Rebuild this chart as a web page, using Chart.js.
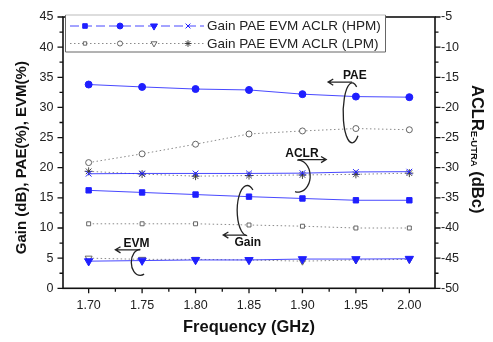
<!DOCTYPE html>
<html>
<head>
<meta charset="utf-8">
<script src="https://cdn.jsdelivr.net/npm/chart.js@4.4.1/dist/chart.umd.min.js"></script>
<style>
  html, body { margin: 0; padding: 0; background: #fff; }
  #wrap { width: 493px; height: 342px; }
</style>
</head>
<body>
<div id="wrap"><canvas id="c"></canvas></div>
<script>
// Frequency sweep (GHz)
const freq = [1.70, 1.75, 1.80, 1.85, 1.90, 1.95, 2.00];

// High power mode
const gainHPM = [16.25, 15.9, 15.55, 15.2, 14.9, 14.6, 14.6];
const paeHPM  = [33.8, 33.4, 33.05, 32.9, 32.2, 31.8, 31.7];
const evmHPM  = [4.5, 4.6, 4.7, 4.7, 4.85, 4.85, 4.9];
const aclrHPM = [-31.0, -30.95, -30.95, -30.95, -30.9, -30.7, -30.65];

// Low power mode
const gainLPM = [10.7, 10.7, 10.7, 10.5, 10.3, 10.0, 10.0];
const paeLPM  = [20.85, 22.3, 23.9, 25.6, 26.1, 26.5, 26.3];
const evmLPM  = [5.0, 4.8, 4.8, 4.7, 4.5, 4.7, 4.8];
const aclrLPM = [-30.6, -31.05, -31.4, -31.3, -31.2, -31.1, -30.9];

// Axis ticks
const xTicks = [1.70, 1.75, 1.80, 1.85, 1.90, 1.95, 2.00];
const leftTicks = [0, 5, 10, 15, 20, 25, 30, 35, 40, 45];
const rightTicks = [-50, -45, -40, -35, -30, -25, -20, -15, -10, -5];

const FONT = '"Liberation Sans", Arial, Helvetica, sans-serif';
const BLUE = '#1f1fff';
const BLUE_LINE = 'rgba(40,40,255,0.85)';
const GRAY_LINE = '#8a8a8a';
const GRAY_MK = '#555';

const pts = arr => arr.map((v, i) => ({ x: freq[i], y: v }));

function hpm(label, data, style, r, axis, rot) {
  return {
    label, data: pts(data), yAxisID: axis,
    borderColor: BLUE_LINE, borderWidth: 1, tension: 0,
    pointStyle: style, pointRadius: r, pointRotation: rot || 0,
    pointBackgroundColor: BLUE, pointBorderColor: BLUE, pointBorderWidth: 1,
    order: 1
  };
}
function lpm(label, data, style, r, axis, rot) {
  return {
    label, data: pts(data), yAxisID: axis,
    borderColor: GRAY_LINE, borderWidth: 1, borderDash: [1.5, 2.5], tension: 0,
    pointStyle: style, pointRadius: r, pointRotation: rot || 0,
    pointBackgroundColor: '#fff', pointBorderColor: GRAY_MK, pointBorderWidth: 0.9,
    order: 2
  };
}

const datasets = [
  lpm('Gain (LPM)', gainLPM, 'rect', 2.8, 'y'),
  lpm('PAE (LPM)', paeLPM, 'circle', 3, 'y'),
  lpm('EVM (LPM)', evmLPM, 'triangle', 4, 'y', 180),
  lpm('ACLR (LPM)', aclrLPM, 'star', 4, 'y2'),
  hpm('Gain (HPM)', gainHPM, 'rect', 3.8, 'y'),
  hpm('PAE (HPM)', paeHPM, 'circle', 3.5, 'y'),
  hpm('EVM (HPM)', evmHPM, 'triangle', 4.8, 'y', 180),
  hpm('ACLR (HPM)', aclrHPM, 'crossRot', 4, 'y2')
];
datasets[3].pointBorderColor = '#333';

// Frame, tick marks, titles, legend and callouts
const decor = {
  id: 'decor',
  afterDatasetsDraw(chart) {
    const { ctx, chartArea: a, scales } = chart;
    const X = scales.x, Y = scales.y, Y2 = scales.y2;
    ctx.save();

    // frame
    ctx.strokeStyle = '#111';
    ctx.lineWidth = 1.6;
    ctx.strokeRect(a.left, a.top, a.right - a.left, a.bottom - a.top);

    // tick marks
    ctx.lineWidth = 1.3;
    ctx.beginPath();
    for (let v = 1.70; v <= 2.0001; v += 0.025) {
      const major = Math.abs(Math.round(v * 20) - v * 20) < 1e-6;
      const px = X.getPixelForValue(v);
      ctx.moveTo(px, a.bottom);
      ctx.lineTo(px, a.bottom + (major ? 5 : 3.5));
    }
    for (let v = 0; v <= 45.001; v += 2.5) {
      const major = v % 5 === 0;
      const py = Y.getPixelForValue(v);
      ctx.moveTo(a.left, py);
      ctx.lineTo(a.left - (major ? 5.5 : 3.5), py);
    }
    for (let v = -50; v <= -4.999; v += 2.5) {
      const major = v % 5 === 0;
      const py = Y2.getPixelForValue(v);
      ctx.moveTo(a.right, py);
      ctx.lineTo(a.right + (major ? 5.5 : 3.5), py);
    }
    ctx.stroke();

    // axis titles
    ctx.fillStyle = '#111';
    ctx.textAlign = 'center';
    ctx.textBaseline = 'middle';
    ctx.font = 'bold 16.5px ' + FONT;
    ctx.fillText('Frequency (GHz)', (a.left + a.right) / 2, 327);

    ctx.save();
    ctx.translate(22, (a.top + a.bottom) / 2 + 5);
    ctx.rotate(-Math.PI / 2);
    ctx.font = 'bold 15px ' + FONT;
    ctx.fillText('Gain (dB), PAE(%), EVM(%)', 0, 0);
    ctx.restore();

    ctx.save();
    ctx.translate(472, 85);
    ctx.rotate(Math.PI / 2);
    ctx.textAlign = 'left';
    ctx.textBaseline = 'alphabetic';
    ctx.font = 'bold 16.5px ' + FONT;
    let tx = 0;
    ctx.fillText('ACLR', tx, 0);
    tx += ctx.measureText('ACLR').width;
    ctx.font = 'bold 9.5px ' + FONT;
    ctx.fillText('E-UTRA', tx, 1.5);
    tx += ctx.measureText('E-UTRA').width;
    ctx.font = 'bold 16.5px ' + FONT;
    ctx.fillText(' (dBc)', tx, 0);
    ctx.restore();

    // legend box
    const lx = 65.5, ly = 15, lw = 320, lh = 37;
    ctx.fillStyle = '#fff';
    ctx.fillRect(lx, ly, lw, lh);
    ctx.lineWidth = 1;
    ctx.strokeStyle = '#666';
    ctx.beginPath();
    ctx.moveTo(lx, ly); ctx.lineTo(lx, ly + lh); ctx.lineTo(lx + lw, ly + lh); ctx.lineTo(lx + lw, ly);
    ctx.stroke();
    ctx.strokeStyle = '#bbb';
    ctx.beginPath(); ctx.moveTo(lx, ly); ctx.lineTo(lx + lw, ly); ctx.stroke();

    const rows = [
      { y: 26, hp: true, text: 'Gain PAE EVM ACLR (HPM)' },
      { y: 43.5, hp: false, text: 'Gain PAE EVM ACLR (LPM)' }
    ];
    const mkX = [85, 120, 154, 188];
    rows.forEach(row => {
      const set = row.hp ? datasets.slice(4, 8) : datasets.slice(0, 4);
      ctx.save();
      ctx.strokeStyle = row.hp ? BLUE_LINE : GRAY_LINE;
      ctx.lineWidth = 1;
      ctx.setLineDash(row.hp ? [9, 4] : [1.5, 2.5]);
      ctx.beginPath(); ctx.moveTo(70, row.y); ctx.lineTo(204, row.y); ctx.stroke();
      ctx.restore();
      set.forEach((ds, i) => {
        ctx.save();
        ctx.fillStyle = ds.pointBackgroundColor;
        ctx.strokeStyle = ds.pointBorderColor;
        ctx.lineWidth = ds.pointBorderWidth;
        Chart.helpers.drawPoint(ctx, {
          pointStyle: ds.pointStyle, radius: ds.pointRadius * 0.85,
          rotation: ds.pointRotation, borderWidth: ds.pointBorderWidth
        }, mkX[i], row.y);
        ctx.restore();
      });
      ctx.fillStyle = '#222';
      ctx.font = '13.5px ' + FONT;
      ctx.textAlign = 'left';
      ctx.textBaseline = 'middle';
      ctx.fillText(row.text, 207, row.y + 0.5);
    });

    // callouts: label, arrow and loop around the referenced curves
    const P = (f, v) => [X.getPixelForValue(f), Y.getPixelForValue(v)];
    ctx.strokeStyle = '#222';
    ctx.fillStyle = '#111';
    ctx.lineWidth = 1.3;
    ctx.font = 'bold 12px ' + FONT;
    ctx.textAlign = 'center';
    ctx.textBaseline = 'middle';
    function arrow(p0, p1) {
      const ang = Math.atan2(p1[1] - p0[1], p1[0] - p0[0]);
      ctx.beginPath();
      ctx.moveTo(p0[0], p0[1]); ctx.lineTo(p1[0], p1[1]);
      ctx.moveTo(p1[0] + 6 * Math.cos(ang + 2.6), p1[1] + 6 * Math.sin(ang + 2.6));
      ctx.lineTo(p1[0], p1[1]);
      ctx.lineTo(p1[0] + 6 * Math.cos(ang - 2.6), p1[1] + 6 * Math.sin(ang - 2.6));
      ctx.stroke();
    }
    function loop(c, rx, ry, a0, a1, ccw) {
      ctx.beginPath();
      ctx.ellipse(c[0], c[1], rx, ry, 0, a0 * Math.PI / 180, a1 * Math.PI / 180, ccw);
      ctx.stroke();
    }
    const callouts = [
      { text: 'PAE', t: P(1.949, 35.3), a0: P(1.9465, 34.2), a1: P(1.9240, 34.2), c: P(1.9465, 29.1), rx: 9, ry: 30, s: -60, e: 50, ccw: true },
      { text: 'ACLR', t: P(1.8995, 22.3), a0: P(1.8960, 21.35), a1: P(1.9222, 21.35), c: P(1.8960, 18.6), rx: 12, ry: 16, s: -95, e: 105, ccw: false },
      { text: 'Gain', t: P(1.8488, 7.64), a0: P(1.8474, 8.83), a1: P(1.8259, 8.83), c: P(1.8483, 12.9), rx: 10, ry: 25, s: -55, e: 90, ccw: true },
      { text: 'EVM', t: P(1.7447, 7.36), a0: P(1.7483, 6.39), a1: P(1.7250, 6.39), c: P(1.7483, 4.3), rx: 9, ry: 13, s: -90, e: 65, ccw: true }
    ];
    callouts.forEach(k => {
      ctx.fillText(k.text, k.t[0], k.t[1]);
      arrow(k.a0, k.a1);
      loop(k.c, k.rx, k.ry, k.s, k.e, k.ccw);
    });

    ctx.restore();
  }
};

const tickFont = { family: FONT, size: 12.5 };

new Chart(document.getElementById('c'), {
  type: 'line',
  data: { datasets },
  options: {
    responsive: true,
    maintainAspectRatio: false,
    animation: false,
    layout: { padding: { top: 11.5, left: 0, right: 0, bottom: 0 } },
    plugins: { legend: { display: false }, tooltip: { enabled: false } },
    scales: {
      x: {
        type: 'linear', min: 1.676, max: 2.024,
        afterBuildTicks: s => { s.ticks = xTicks.map(v => ({ value: v })); },
        afterFit: s => { s.height = 53.7; },
        grid: { drawOnChartArea: false, drawTicks: false, display: false },
        border: { display: false },
        ticks: { padding: 9.5, color: '#222', font: tickFont, maxRotation: 0,
                 callback: v => Number(v).toFixed(2) }
      },
      y: {
        position: 'left', min: 0, max: 45,
        afterBuildTicks: s => { s.ticks = leftTicks.map(v => ({ value: v })); },
        afterFit: s => { s.width = 63; },
        grid: { display: false, drawTicks: false },
        border: { display: false },
        ticks: { padding: 9.5, color: '#222', font: tickFont }
      },
      y2: {
        position: 'right', min: -50, max: -5,
        afterBuildTicks: s => { s.ticks = rightTicks.map(v => ({ value: v })); },
        afterFit: s => { s.width = 58; },
        grid: { display: false, drawTicks: false },
        border: { display: false },
        ticks: { padding: 6, color: '#222', font: tickFont }
      }
    }
  },
  plugins: [decor]
});
</script>
</body>
</html>
